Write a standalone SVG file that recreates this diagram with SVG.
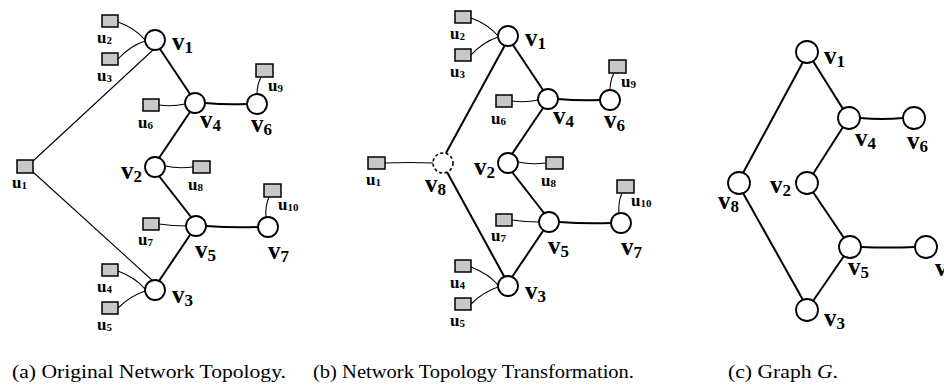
<svg xmlns="http://www.w3.org/2000/svg" width="944" height="391" viewBox="0 0 944 391">
<style>
.n{fill:#fff;stroke:#000;stroke-width:1.8}
.d{fill:#fff;stroke:#000;stroke-width:1.6;stroke-dasharray:3 2.5}
.u{fill:#c8c8c8;stroke:#000;stroke-width:1.5}
.t{stroke:#000;stroke-width:1.1;fill:none}
.k{stroke:#000;stroke-width:2;fill:none}
.vl{font-family:"Liberation Serif",serif;font-weight:bold;font-size:25px}
.vs{font-size:17px}
.ul{font-family:"Liberation Serif",serif;font-weight:bold;font-size:17px}
.us{font-size:11px}
.cap{font-family:"Liberation Serif",serif;font-size:18px}
</style>
<rect width="944" height="391" fill="#fff"/>
<g id="connectors">
<!-- panel a -->
<path class="t" d="M33,161 L153,50"/>
<path class="t" d="M33,172 L153,281"/>
<path class="k" d="M160,49 L190,94"/>
<path class="k" d="M190,112 L159,158"/>
<path class="k" d="M159,176 L191,217"/>
<path class="k" d="M190,235 L159,281"/>
<path class="k" d="M205,103 Q226,105 247,104"/>
<path class="k" d="M206,226 Q232,228 258,227"/>
<path class="t" d="M118,22 Q135,28 145,40"/>
<path class="t" d="M118,59 Q130,46 145,41"/>
<path class="t" d="M118,271 Q136,278 145,289"/>
<path class="t" d="M118,308 Q130,296 145,291"/>
<path class="t" d="M159,105 Q172,107 185,104"/>
<path class="t" d="M159,224 Q172,226 186,226"/>
<path class="t" d="M193,167 Q178,169 165,166"/>
<path class="t" d="M261,77 Q257,85 257,94"/>
<path class="t" d="M269,197 Q265,206 266,217"/>
<!-- panel b -->
<path class="t" d="M385,163 Q410,162 433,163"/>
<path class="k" d="M505,45 L446,153"/>
<path class="k" d="M447,172 L505,278"/>
<path class="k" d="M513,45 L543,90"/>
<path class="k" d="M543,108 L512,154"/>
<path class="k" d="M512,172 L544,213"/>
<path class="k" d="M543,231 L512,277"/>
<path class="k" d="M558,99 Q579,101 600,100"/>
<path class="k" d="M559,222 Q585,224 611,223"/>
<path class="t" d="M471,18 Q488,24 498,36"/>
<path class="t" d="M471,55 Q483,42 498,37"/>
<path class="t" d="M471,267 Q489,274 498,285"/>
<path class="t" d="M471,304 Q483,292 498,287"/>
<path class="t" d="M512,101 Q525,103 538,100"/>
<path class="t" d="M512,220 Q525,222 539,222"/>
<path class="t" d="M546,163 Q531,165 518,162"/>
<path class="t" d="M614,73 Q610,81 610,90"/>
<path class="t" d="M622,193 Q618,202 619,213"/>
<!-- panel c -->
<path class="k" d="M803,62 L743,173"/>
<path class="k" d="M743,193 L803,300"/>
<path class="k" d="M813,61 L843,109"/>
<path class="k" d="M843,127 L813,174"/>
<path class="k" d="M813,192 L844,238"/>
<path class="k" d="M844,256 L813,301"/>
<path class="k" d="M860,118 Q882,120 903,118"/>
<path class="k" d="M861,247 Q888,248 915,247"/>
</g>
<g id="a-v1"><circle class="n" cx="155" cy="40" r="10"/><text class="vl" x="172" y="50">v<tspan class="vs" dy="3">1</tspan></text></g>
<g id="a-v4"><circle class="n" cx="195" cy="103" r="10"/><text class="vl" x="200" y="128">v<tspan class="vs" dy="3">4</tspan></text></g>
<g id="a-v6"><circle class="n" cx="257" cy="104" r="10"/><text class="vl" x="251" y="132">v<tspan class="vs" dy="3">6</tspan></text></g>
<g id="a-v2"><circle class="n" cx="155" cy="167" r="10"/><text class="vl" x="121" y="179">v<tspan class="vs" dy="3">2</tspan></text></g>
<g id="a-v5"><circle class="n" cx="196" cy="226" r="10"/><text class="vl" x="195" y="258">v<tspan class="vs" dy="3">5</tspan></text></g>
<g id="a-v7"><circle class="n" cx="268" cy="227" r="10"/><text class="vl" x="268" y="259">v<tspan class="vs" dy="3">7</tspan></text></g>
<g id="a-v3"><circle class="n" cx="155" cy="290" r="10"/><text class="vl" x="172" y="303">v<tspan class="vs" dy="3">3</tspan></text></g>
<g id="a-u1"><rect class="u" x="17" y="160" width="16" height="13"/><text class="ul" x="12" y="188">u<tspan class="us" dy="1">1</tspan></text></g>
<g id="a-u2"><rect class="u" x="102" y="15" width="16" height="12"/><text class="ul" x="97" y="43">u<tspan class="us" dy="1">2</tspan></text></g>
<g id="a-u3"><rect class="u" x="102" y="53" width="16" height="12"/><text class="ul" x="97" y="81">u<tspan class="us" dy="1">3</tspan></text></g>
<g id="a-u4"><rect class="u" x="102" y="264" width="16" height="12"/><text class="ul" x="97" y="292">u<tspan class="us" dy="1">4</tspan></text></g>
<g id="a-u5"><rect class="u" x="102" y="302" width="16" height="12"/><text class="ul" x="97" y="330">u<tspan class="us" dy="1">5</tspan></text></g>
<g id="a-u6"><rect class="u" x="143" y="99" width="16" height="12"/><text class="ul" x="138" y="128">u<tspan class="us" dy="1">6</tspan></text></g>
<g id="a-u7"><rect class="u" x="143" y="218" width="16" height="12"/><text class="ul" x="138" y="245">u<tspan class="us" dy="1">7</tspan></text></g>
<g id="a-u8"><rect class="u" x="193" y="161" width="17" height="12"/><text class="ul" x="188" y="190">u<tspan class="us" dy="1">8</tspan></text></g>
<g id="a-u9"><rect class="u" x="256" y="64" width="17" height="13"/><text class="ul" x="268" y="91">u<tspan class="us" dy="1">9</tspan></text></g>
<g id="a-u10"><rect class="u" x="264" y="184" width="17" height="13"/><text class="ul" x="278" y="210">u<tspan class="us" dy="1">10</tspan></text></g>

<g id="b-v1"><circle class="n" cx="508" cy="36" r="10"/><text class="vl" x="525" y="46">v<tspan class="vs" dy="3">1</tspan></text></g>
<g id="b-v4"><circle class="n" cx="548" cy="99" r="10"/><text class="vl" x="553" y="124">v<tspan class="vs" dy="3">4</tspan></text></g>
<g id="b-v6"><circle class="n" cx="610" cy="100" r="10"/><text class="vl" x="604" y="128">v<tspan class="vs" dy="3">6</tspan></text></g>
<g id="b-v2"><circle class="n" cx="508" cy="163" r="10"/><text class="vl" x="474" y="175">v<tspan class="vs" dy="3">2</tspan></text></g>
<g id="b-v5"><circle class="n" cx="549" cy="222" r="10"/><text class="vl" x="548" y="254">v<tspan class="vs" dy="3">5</tspan></text></g>
<g id="b-v7"><circle class="n" cx="621" cy="223" r="10"/><text class="vl" x="621" y="255">v<tspan class="vs" dy="3">7</tspan></text></g>
<g id="b-v3"><circle class="n" cx="508" cy="286" r="10"/><text class="vl" x="525" y="299">v<tspan class="vs" dy="3">3</tspan></text></g>
<g id="b-v8"><circle class="d" cx="443" cy="163" r="10"/><text class="vl" x="425" y="192">v<tspan class="vs" dy="3">8</tspan></text></g>
<g id="b-u1"><rect class="u" x="368" y="157" width="17" height="12"/><text class="ul" x="366" y="185">u<tspan class="us" dy="1">1</tspan></text></g>
<g id="b-u2"><rect class="u" x="455" y="11" width="16" height="12"/><text class="ul" x="450" y="39">u<tspan class="us" dy="1">2</tspan></text></g>
<g id="b-u3"><rect class="u" x="455" y="49" width="16" height="12"/><text class="ul" x="450" y="77">u<tspan class="us" dy="1">3</tspan></text></g>
<g id="b-u4"><rect class="u" x="455" y="260" width="16" height="12"/><text class="ul" x="450" y="288">u<tspan class="us" dy="1">4</tspan></text></g>
<g id="b-u5"><rect class="u" x="455" y="298" width="16" height="12"/><text class="ul" x="450" y="326">u<tspan class="us" dy="1">5</tspan></text></g>
<g id="b-u6"><rect class="u" x="496" y="95" width="16" height="12"/><text class="ul" x="491" y="124">u<tspan class="us" dy="1">6</tspan></text></g>
<g id="b-u7"><rect class="u" x="496" y="214" width="16" height="12"/><text class="ul" x="491" y="241">u<tspan class="us" dy="1">7</tspan></text></g>
<g id="b-u8"><rect class="u" x="546" y="157" width="17" height="12"/><text class="ul" x="541" y="186">u<tspan class="us" dy="1">8</tspan></text></g>
<g id="b-u9"><rect class="u" x="609" y="60" width="17" height="13"/><text class="ul" x="621" y="87">u<tspan class="us" dy="1">9</tspan></text></g>
<g id="b-u10"><rect class="u" x="617" y="180" width="17" height="13"/><text class="ul" x="631" y="206">u<tspan class="us" dy="1">10</tspan></text></g>

<g id="c-v1"><circle class="n" cx="807" cy="52" r="11"/><text class="vl" x="824" y="64">v<tspan class="vs" dy="3">1</tspan></text></g>
<g id="c-v4"><circle class="n" cx="849" cy="118" r="11"/><text class="vl" x="855" y="146">v<tspan class="vs" dy="3">4</tspan></text></g>
<g id="c-v6"><circle class="n" cx="914" cy="118" r="11"/><text class="vl" x="907" y="149">v<tspan class="vs" dy="3">6</tspan></text></g>
<g id="c-v2"><circle class="n" cx="807" cy="183" r="11"/><text class="vl" x="770" y="193">v<tspan class="vs" dy="3">2</tspan></text></g>
<g id="c-v8"><circle class="n" cx="739" cy="183" r="11"/><text class="vl" x="718" y="209">v<tspan class="vs" dy="3">8</tspan></text></g>
<g id="c-v5"><circle class="n" cx="850" cy="247" r="11"/><text class="vl" x="848" y="275">v<tspan class="vs" dy="3">5</tspan></text></g>
<g id="c-v7"><circle class="n" cx="926" cy="247" r="11"/><text class="vl" x="935" y="276">v<tspan class="vs" dy="3">7</tspan></text></g>
<g id="c-v3"><circle class="n" cx="807" cy="310" r="11"/><text class="vl" x="824" y="326">v<tspan class="vs" dy="3">3</tspan></text></g>

<text class="cap" x="12" y="378" textLength="274" lengthAdjust="spacingAndGlyphs">(a) Original Network Topology.</text>
<text class="cap" x="313" y="378" textLength="321" lengthAdjust="spacingAndGlyphs">(b) Network Topology Transformation.</text>
<text class="cap" x="728" y="378" textLength="110" lengthAdjust="spacingAndGlyphs">(c) Graph <tspan font-style="italic">G</tspan>.</text>
</svg>
